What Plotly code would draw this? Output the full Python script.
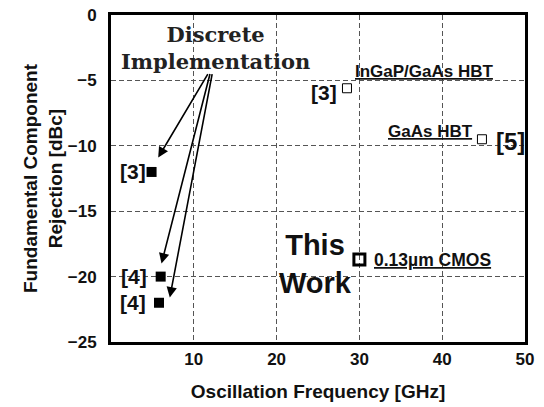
import plotly.graph_objects as go

# Data
discrete_x = [4.9, 6.0, 5.8]
discrete_y = [-12.0, -20.0, -22.0]
discrete_ref = ["[3]", "[4]", "[4]"]

hbt_x = [28.5, 44.8]
hbt_y = [-5.6, -9.5]
hbt_ref = ["[3]", "[5]"]
hbt_tech = ["InGaP/GaAs HBT", "GaAs HBT"]

this_x = [30.0]
this_y = [-18.7]
this_tech = ["0.13\u00b5m CMOS"]

x_ticks = [10, 20, 30, 40, 50]
y_ticks = [0, -5, -10, -15, -20, -25]

SANS = "Liberation Sans"
SERIF = "DejaVu Serif"

fig = go.Figure()
fig.add_trace(go.Scatter(x=discrete_x, y=discrete_y, mode="markers",
                         marker=dict(symbol="square", size=10, color="black"),
                         showlegend=False))
fig.add_trace(go.Scatter(x=hbt_x, y=hbt_y, mode="markers",
                         marker=dict(symbol="square-open", size=9, color="black",
                                     line=dict(width=1)),
                         showlegend=False))
fig.add_trace(go.Scatter(x=this_x, y=this_y, mode="markers",
                         marker=dict(symbol="square-open", size=11, color="black",
                                     line=dict(width=3)),
                         showlegend=False))

ann = []
def txt(x, y, t, size, xshift=0, yshift=0, xanchor="center", family=SANS, weight="bold"):
    ann.append(dict(x=x, y=y, xref="x", yref="y", text=t, showarrow=False,
                    xanchor=xanchor, yanchor="middle", xshift=xshift, yshift=yshift,
                    font=dict(family=family, size=size, color="#111", weight=weight)))

# discrete refs
txt(discrete_x[0], discrete_y[0], discrete_ref[0], 21, xshift=-4, xanchor="right")
txt(discrete_x[1], discrete_y[1], discrete_ref[1], 21, xshift=-12, xanchor="right")
txt(discrete_x[2], discrete_y[2], discrete_ref[2], 21, xshift=-11, xanchor="right")
# HBT refs
txt(hbt_x[0], hbt_y[0], hbt_ref[0], 21, xshift=-8, yshift=-4, xanchor="right")
txt(hbt_x[1], hbt_y[1], hbt_ref[1], 24, xshift=12, yshift=-2, xanchor="left")
txt(hbt_x[0], hbt_y[0], "<u>" + hbt_tech[0] + "</u>", 17, xshift=6, yshift=17, xanchor="left")
txt(hbt_x[1], hbt_y[1], "<u>" + hbt_tech[1] + "</u>", 17, xshift=-7, yshift=8, xanchor="right")
txt(this_x[0], this_y[0], "<u>" + this_tech[0] + "</u>", 17.5, xshift=13, xanchor="left")
# This Work
ann.append(dict(x=this_x[0], y=this_y[0], xref="x", yref="y", text="This<br>Work",
                showarrow=False, xanchor="right", yanchor="middle", xshift=-5, yshift=-4,
                align="center",
                font=dict(family=SANS, size=29, color="#111", weight="bold")))
# Discrete Implementation
ann.append(dict(x=12.6, y=-2.5, xref="x", yref="y", text="Discrete<br>Implementation",
                showarrow=False, xanchor="center", yanchor="middle", align="center",
                font=dict(family=SERIF, size=21, color="#222", weight="bold")))

# arrows
arrow_start_y = -4.4
arrow_start_x = [11.8, 12.0, 12.25]
arrow_tips_x = [5.7, 6.1, 7.1]
arrow_tips_y = [-10.9, -19.0, -21.6]
for tx, ty, sx in zip(arrow_tips_x, arrow_tips_y, arrow_start_x):
    ann.append(dict(x=tx, y=ty, ax=sx, ay=arrow_start_y, xref="x", yref="y",
                    axref="x", ayref="y", showarrow=True, arrowhead=2, arrowsize=1.3,
                    arrowwidth=1.6, arrowcolor="black", text=""))

grid_dash = "5px,3px"
fig.update_layout(
    width=544, height=407,
    margin=dict(l=111, r=19, t=15, b=65, autoexpand=False),
    plot_bgcolor="white", paper_bgcolor="white",
    annotations=ann,
    xaxis=dict(range=[0, 50], tickvals=x_ticks, showgrid=True, griddash=grid_dash,
               gridcolor="#555", gridwidth=1, showline=True, mirror=True, linewidth=3,
               linecolor="black", zeroline=False, ticks="", automargin=False,
               tickfont=dict(family=SANS, size=17, color="#111", weight="bold"),
               title=dict(text="Oscillation Frequency [GHz]", standoff=17,
                          font=dict(family=SANS, size=19, color="#111", weight="bold"))),
    yaxis=dict(range=[-25, 0], tickvals=y_ticks, showgrid=True, griddash=grid_dash,
               gridcolor="#555", gridwidth=1, showline=True, mirror=True, linewidth=3,
               linecolor="black", zeroline=False, ticks="", automargin=False,
               ticklabelstandoff=8,
               tickfont=dict(family=SANS, size=17, color="#111", weight="bold"),
               title=dict(text="Fundamental Component<br>Rejection [dBc]", standoff=1,
                          font=dict(family=SANS, size=19, color="#111", weight="bold"))),
)

fig.write_html("out.html", config={"displayModeBar": False},
               post_script="document.body.style.margin='0';document.body.style.padding='0';")
